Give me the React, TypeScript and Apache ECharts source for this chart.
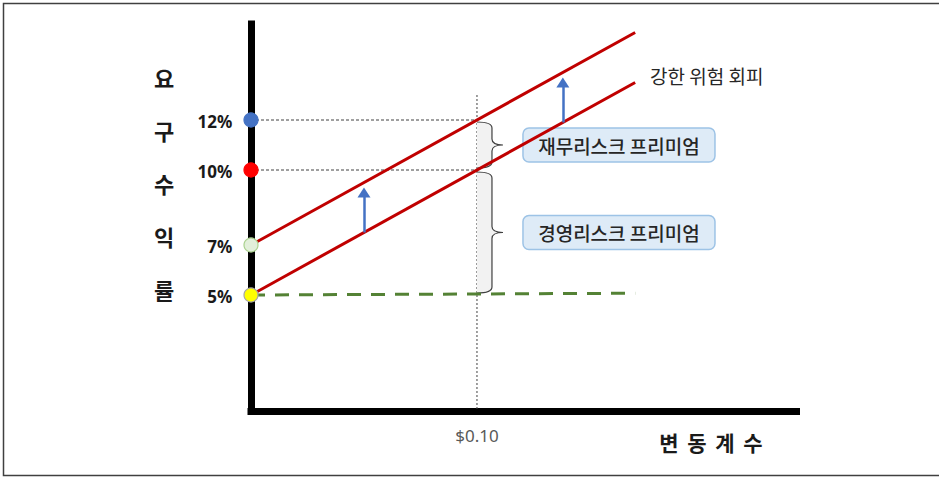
import React, { useEffect, useRef } from "react";
import * as echarts from "echarts";

const FONT = '"Noto Sans CJK KR", "Noto Sans", sans-serif';
const LATIN = '"Noto Sans", "Noto Sans CJK KR", sans-serif';

// x values (coefficient of variation, $) and required return (%)
const lineX = [0, 0.17];
const baseLine = [5, 13.5];          // 기존 요구수익률선
const averseLine = [7, 15.5];        // 강한 위험 회피
const riskFreeLine = [5, 5.07];      // 무위험 수익률 (dashed)

const refX = 0.1;
const refTop = 13;
const refLevels = [12, 10];

const dotValues = [12, 10, 7, 5];
const dotFill = ["#4472C4", "#FF0000", "#E2EFDA", "#FFFF00"];
const dotBorder = ["#4472C4", "#FF0000", "#A9D18E", "#A5A5A5"];

const arrowX = [0.05, 0.138];
const arrowFrom = [7.5, 11.9];
const arrowTo = [9.1, 13.5];

const braceTop = [12, 10];
const braceBottom = [10, 5];
const braceLabels = ["재무리스크 프리미엄", "경영리스크 프리미엄"];

const yTitle = ["요", "구", "수", "익", "률"];
const xTitle = ["변", "동", "계", "수"];
const shiftLabel = "강한 위험 회피";
const xTickLabel = "$0.10";

const yMin = 0.36;
const yMax = 15.84;
const xMax = 0.2414;

export default function App() {
  const ref = useRef<HTMLDivElement>(null);
  useEffect(() => {
    document.body.style.margin = "0";
    const chart = echarts.init(ref.current!, null, { renderer: "svg" });
    const pair = (ys: number[]) => lineX.map((x, i) => [x, ys[i]]);
    const option: any = {
      animation: false,
      backgroundColor: "#ffffff",
      textStyle: { fontFamily: FONT },
      grid: { left: 251, top: 24, width: 545.5, height: 387 },
      xAxis: {
        type: "value",
        min: 0,
        max: xMax,
        interval: 0.1,
        axisLine: { onZero: false, lineStyle: { color: "#000", width: 7, cap: "square" } },
        axisTick: { show: false },
        splitLine: { show: false },
        axisLabel: {
          margin: 16,
          fontSize: 17,
          color: "#595959",
          fontFamily: LATIN,
          formatter: (v: number) => (Math.abs(v - refX) < 1e-9 ? xTickLabel : ""),
        },
      },
      yAxis: {
        type: "value",
        min: yMin,
        max: yMax,
        axisLine: { show: true, onZero: false, lineStyle: { color: "#000", width: 7, cap: "square" } },
        axisTick: { show: false },
        splitLine: { show: false },
        axisLabel: { show: false },
      },
      graphic: [
        {
          type: "rect",
          shape: { x: 3.5, y: 3.5, width: 940, height: 472 },
          style: { fill: "none", stroke: "#404040", lineWidth: 1.5 },
          silent: true,
        },
        ...yTitle.map((ch, i) => ({
          type: "text",
          x: 164,
          y: 77 + i * 53,
          style: {
            text: ch,
            fontSize: 22,
            fontWeight: "bold",
            fontFamily: FONT,
            fill: "#1a1a1a",
            align: "center",
            verticalAlign: "middle",
          },
        })),
        ...xTitle.map((ch, i) => ({
          type: "text",
          x: 669 + i * 28,
          y: 442,
          style: {
            text: ch,
            fontSize: 21,
            fontWeight: "bold",
            fontFamily: FONT,
            fill: "#1a1a1a",
            align: "center",
            verticalAlign: "middle",
          },
        })),
        {
          type: "text",
          x: 650,
          y: 75,
          style: {
            text: shiftLabel,
            fontSize: 19,
            fontFamily: FONT,
            fill: "#262626",
            align: "left",
            verticalAlign: "middle",
          },
        },
      ],
      series: [
        {
          type: "line",
          data: [[refX, refTop], [refX, yMin]],
          symbol: "none",
          lineStyle: { color: "#404040", width: 1, type: [2, 2] },
          silent: true,
          z: 1,
        },
        ...refLevels.map((lv) => ({
          type: "line",
          data: [[0, lv], [refX, lv]],
          symbol: "none",
          lineStyle: { color: "#404040", width: 1, type: [3, 2] },
          silent: true,
          z: 1,
        })),
        {
          type: "custom",
          z: 2,
          silent: true,
          data: braceTop.map((t, i) => [refX, t, braceBottom[i], i]),
          renderItem: (params: any, api: any) => {
            const p1 = api.coord([api.value(0), api.value(1)]);
            const p2 = api.coord([api.value(0), api.value(2)]);
            const idx = api.value(3);
            const x0 = p1[0];
            const y1 = p1[1] + 2;
            const y2 = p2[1] - 2;
            const ym = (y1 + y2) / 2;
            const w = 15, r = 6, t = 11;
            const xb = x0 + w;
            const d =
              `M${x0} ${y1} Q${xb} ${y1} ${xb} ${y1 + r} L${xb} ${ym - r} Q${xb} ${ym} ${xb + t} ${ym} ` +
              `Q${xb} ${ym} ${xb} ${ym + r} L${xb} ${y2 - r} Q${xb} ${y2} ${x0} ${y2}`;
            const bx = x0 + 46;
            return {
              type: "group",
              children: [
                { type: "path", shape: { pathData: d + " Z" }, style: { fill: "#F2F2F2", stroke: null } },
                { type: "path", shape: { pathData: d }, style: { fill: "none", stroke: "#404040", lineWidth: 1.2 } },
                {
                  type: "rect",
                  shape: { x: bx, y: ym - 17, width: 192, height: 34, r: 6 },
                  style: { fill: "#DEEBF7", stroke: "#9DC3E6", lineWidth: 1.5 },
                },
                {
                  type: "text",
                  x: bx + 96,
                  y: ym,
                  style: {
                    text: braceLabels[idx],
                    fontSize: 19,
                    fontWeight: 500,
                    fontFamily: FONT,
                    fill: "#262626",
                    align: "center",
                    verticalAlign: "middle",
                  },
                },
              ],
            };
          },
        },
        {
          type: "line",
          data: pair(riskFreeLine),
          symbol: "none",
          lineStyle: { color: "#548235", width: 3, type: [14, 10] },
          silent: true,
          z: 3,
        },
        {
          type: "line",
          data: pair(baseLine),
          symbol: "none",
          lineStyle: { color: "#C00000", width: 3 },
          silent: true,
          z: 3,
        },
        {
          type: "line",
          data: pair(averseLine),
          symbol: "none",
          lineStyle: { color: "#C00000", width: 3 },
          silent: true,
          z: 3,
          markLine: {
            silent: true,
            symbol: ["none", "triangle"],
            symbolSize: [13, 10],
            label: { show: false },
            emphasis: { disabled: true },
            lineStyle: { color: "#4472C4", width: 2.5, type: "solid" },
            data: arrowX.map((x, i) => [{ coord: [x, arrowFrom[i]] }, { coord: [x, arrowTo[i]] }]),
          },
        },
        {
          type: "scatter",
          z: 5,
          silent: true,
          symbolSize: 14,
          data: dotValues.map((v, i) => ({
            value: [0, v],
            itemStyle: { color: dotFill[i], borderColor: dotBorder[i], borderWidth: 1.2, opacity: 1 },
          })),
          label: {
            show: true,
            position: "left",
            distance: 11,
            offset: [0, 1],
            fontSize: 17,
            fontWeight: "bold",
            fontFamily: LATIN,
            color: "#1a1a1a",
            formatter: (p: any) => `${p.value[1]}%`,
          },
        },
      ],
    };
    chart.setOption(option);
    return () => chart.dispose();
  }, []);
  return <div ref={ref} style={{ position: "absolute", left: 0, top: 0, width: 939, height: 478 }} />;
}
